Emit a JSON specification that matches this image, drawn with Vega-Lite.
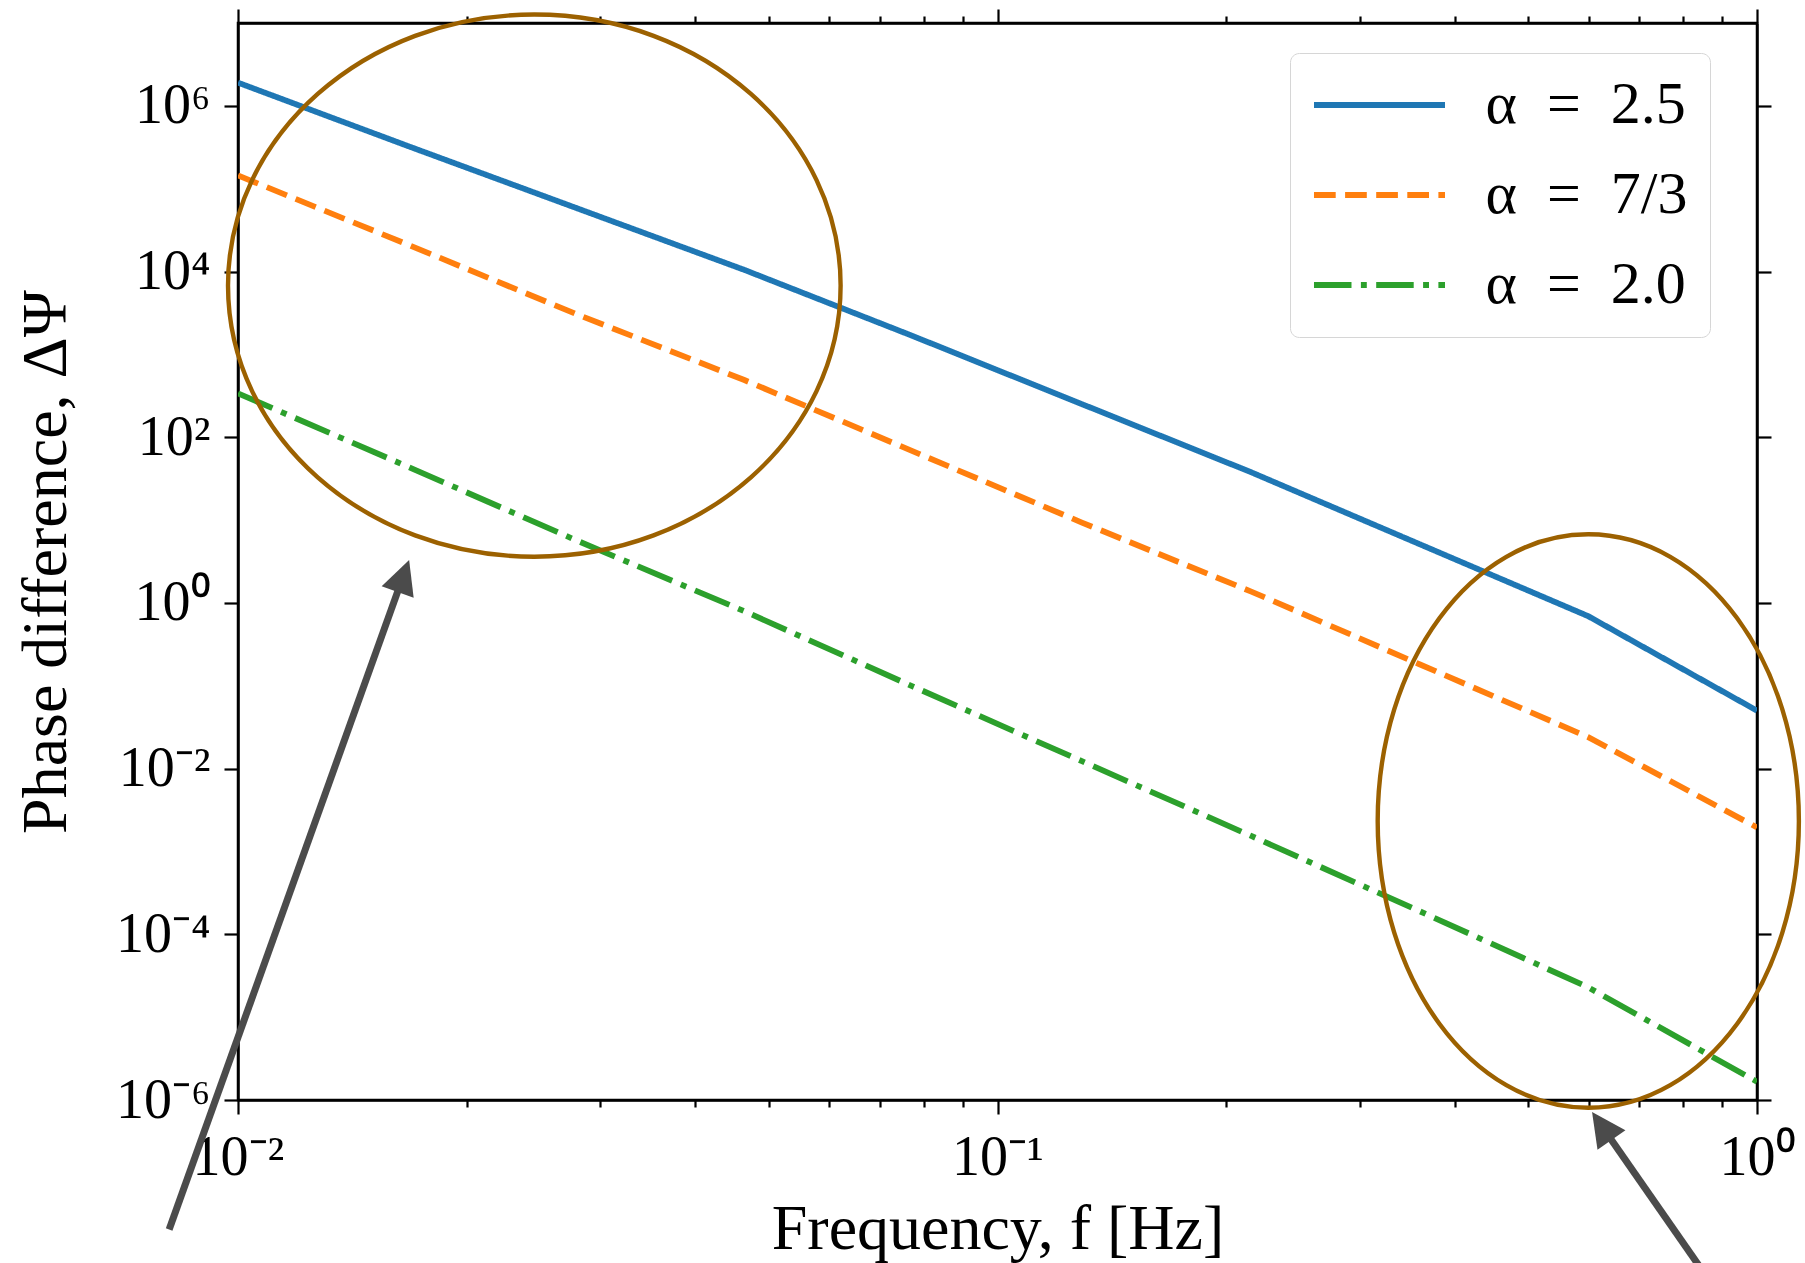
{
  "$schema": "https://vega.github.io/schema/vega-lite/v6.json",
  "autosize": {"type": "none"},
  "width": 1519,
  "height": 1077,
  "padding": {"left": 238, "top": 23, "right": 48, "bottom": 163},
  "background": "white",
  "datasets": {
    "curves": [
      {"f": 0.01, "v": 1905000, "s": "α\u2002=\u20022.5"},
      {"f": 0.016681, "v": 331000, "s": "α\u2002=\u20022.5"},
      {"f": 0.027826, "v": 58900, "s": "α\u2002=\u20022.5"},
      {"f": 0.046416, "v": 10470, "s": "α\u2002=\u20022.5"},
      {"f": 0.077426, "v": 1660, "s": "α\u2002=\u20022.5"},
      {"f": 0.129155, "v": 251, "s": "α\u2002=\u20022.5"},
      {"f": 0.215443, "v": 38.0, "s": "α\u2002=\u20022.5"},
      {"f": 0.359381, "v": 5.13, "s": "α\u2002=\u20022.5"},
      {"f": 0.599484, "v": 0.692, "s": "α\u2002=\u20022.5"},
      {"f": 1.0, "v": 0.0501, "s": "α\u2002=\u20022.5"},
      {"f": 0.01, "v": 144500, "s": "α\u2002=\u20027/3"},
      {"f": 0.016681, "v": 21400, "s": "α\u2002=\u20027/3"},
      {"f": 0.027826, "v": 3090, "s": "α\u2002=\u20027/3"},
      {"f": 0.046416, "v": 490, "s": "α\u2002=\u20027/3"},
      {"f": 0.077426, "v": 67.6, "s": "α\u2002=\u20027/3"},
      {"f": 0.129155, "v": 9.33, "s": "α\u2002=\u20027/3"},
      {"f": 0.215443, "v": 1.38, "s": "α\u2002=\u20027/3"},
      {"f": 0.359381, "v": 0.182, "s": "α\u2002=\u20027/3"},
      {"f": 0.599484, "v": 0.0240, "s": "α\u2002=\u20027/3"},
      {"f": 1.0, "v": 0.00195, "s": "α\u2002=\u20027/3"},
      {"f": 0.01, "v": 339, "s": "α\u2002=\u20022.0"},
      {"f": 0.016681, "v": 44.7, "s": "α\u2002=\u20022.0"},
      {"f": 0.027826, "v": 5.75, "s": "α\u2002=\u20022.0"},
      {"f": 0.046416, "v": 0.794, "s": "α\u2002=\u20022.0"},
      {"f": 0.077426, "v": 0.0977, "s": "α\u2002=\u20022.0"},
      {"f": 0.129155, "v": 0.0123, "s": "α\u2002=\u20022.0"},
      {"f": 0.215443, "v": 0.00155, "s": "α\u2002=\u20022.0"},
      {"f": 0.359381, "v": 0.0001905, "s": "α\u2002=\u20022.0"},
      {"f": 0.599484, "v": 0.0000229, "s": "α\u2002=\u20022.0"},
      {"f": 1.0, "v": 0.00000166, "s": "α\u2002=\u20022.0"}
    ],
    "ellipseLeft": [{"f": 0.024555, "v": 6761}],
    "ellipseRight": [{"f": 0.5996, "v": 0.002333}],
    "arrows": [
      {"f": 0.008116, "v": 2.735e-8, "f2": 0.016452, "v2": 1.954},
      {"f": 0.8672, "v": 6.44e-9, "f2": 0.6279, "v2": 4.54e-7}
    ],
    "headLeft": [{"f": 0.0168, "v": 3.30}],
    "headRight": [{"f": 0.6065, "v": 7.16e-7}]
  },
  "config": {
    "view": {"stroke": "black", "strokeWidth": 2.5},
    "axis": {
      "domainColor": "black",
      "domainWidth": 2.5,
      "tickColor": "black",
      "tickWidth": 2.2,
      "labelFont": "Liberation Serif",
      "titleFont": "Liberation Serif",
      "labelColor": "black",
      "titleColor": "black",
      "titleFontWeight": "normal",
      "grid": false,
      "labelFlush": false,
      "labelOverlap": false
    },
    "legend": {
      "orient": "none",
      "legendX": 1052,
      "legendY": 30,
      "title": null,
      "labelFont": "Liberation Serif",
      "labelFontSize": 60,
      "labelColor": "black",
      "labelLimit": 600,
      "symbolType": "M -3 0 L 3 0",
      "symbolSize": 1907,
      "symbolStrokeWidth": 5.8,
      "symbolOffset": 37.5,
      "padding": 22,
      "rowPadding": 30,
      "labelOffset": 76,
      "strokeColor": "#d6d6d6",
      "fillColor": "white",
      "cornerRadius": 9
    }
  },
  "resolve": {"axis": {"x": "independent", "y": "independent"}},
  "layer": [
    {
      "data": {"name": "curves"},
      "mark": {"type": "line", "strokeWidth": 5.8, "strokeCap": "butt", "clip": true},
      "encoding": {
        "x": {
          "field": "f", "type": "quantitative",
          "scale": {"type": "log", "domain": [0.01, 1], "nice": false},
          "axis": {
            "orient": "bottom",
            "title": "Frequency, f [Hz]",
            "titleFontSize": 64,
            "titleX": 759.5,
            "titleY": 148,
            "titleBaseline": "alphabetic",
            "titleAnchor": "middle",
            "values": [0.01, 0.02, 0.03, 0.04, 0.05, 0.06, 0.07, 0.08, 0.09, 0.1, 0.2, 0.3, 0.4, 0.5, 0.6, 0.7, 0.8, 0.9, 1],
            "tickSize": {"condition": {"test": "abs(log(datum.value)/LN10 - round(log(datum.value)/LN10)) < 0.001", "value": 14}, "value": 7},
            "labelFontSize": 56,
            "labelPadding": 16,
            "labelExpr": "abs(log(datum.value)/LN10 - round(log(datum.value)/LN10)) < 0.001 ? '10' + (datum.value < 0.99 ? '⁻' : '') + ['⁰','¹','²','³','⁴','⁵','⁶','⁷','⁸','⁹'][abs(round(log(datum.value)/LN10))] : ''"
          }
        },
        "y": {
          "field": "v", "type": "quantitative",
          "scale": {"type": "log", "domain": [0.000001, 10000000], "nice": false},
          "axis": {
            "orient": "left",
            "title": "Phase difference, ΔΨ",
            "titleFontSize": 64,
            "titleX": -192,
            "titleY": 538.5,
            "titleAngle": -90,
            "titleBaseline": "middle",
            "titleAnchor": "middle",
            "values": [0.000001, 0.0001, 0.01, 1, 100, 10000, 1000000],
            "tickSize": 14,
            "labelFontSize": 56,
            "labelPadding": 14,
            "labelBaseline": "middle",
            "labelExpr": "'10' + (datum.value < 0.99 ? '⁻' : '') + ['⁰','¹','²','³','⁴','⁵','⁶','⁷','⁸','⁹'][abs(round(log(datum.value)/LN10))]"
          }
        },
        "color": {
          "field": "s", "type": "nominal",
          "scale": {"domain": ["α\u2002=\u20022.5", "α\u2002=\u20027/3", "α\u2002=\u20022.0"], "range": ["#1f77b4", "#ff7f0e", "#2ca02c"]}
        },
        "strokeDash": {
          "field": "s", "type": "nominal",
          "scale": {"domain": ["α\u2002=\u20022.5", "α\u2002=\u20027/3", "α\u2002=\u20022.0"], "range": [[1, 0], [21.7, 9.4], [37.5, 9.4, 5.9, 9.4]]}
        }
      }
    },
    {
      "data": {"name": "ellipseLeft"},
      "mark": {"type": "point", "shape": "M -306.3 0 A 306.3 271.1 0 1 0 306.3 0 A 306.3 271.1 0 1 0 -306.3 0 Z", "size": 4, "filled": false, "stroke": "#9c6100", "strokeWidth": 4.4, "opacity": 1, "clip": false},
      "encoding": {
        "x": {
          "field": "f", "type": "quantitative",
          "axis": {
            "orient": "top", "title": null, "labels": false,
            "values": [0.01, 0.02, 0.03, 0.04, 0.05, 0.06, 0.07, 0.08, 0.09, 0.1, 0.2, 0.3, 0.4, 0.5, 0.6, 0.7, 0.8, 0.9, 1],
            "tickSize": {"condition": {"test": "abs(log(datum.value)/LN10 - round(log(datum.value)/LN10)) < 0.001", "value": 14}, "value": 7}
          }
        },
        "y": {
          "field": "v", "type": "quantitative",
          "axis": {
            "orient": "right", "title": null, "labels": false,
            "values": [0.000001, 0.0001, 0.01, 1, 100, 10000, 1000000],
            "tickSize": 14
          }
        }
      }
    },
    {
      "data": {"name": "ellipseRight"},
      "mark": {"type": "point", "shape": "M -210.6 0 A 210.6 286.7 0 1 0 210.6 0 A 210.6 286.7 0 1 0 -210.6 0 Z", "size": 4, "filled": false, "stroke": "#9c6100", "strokeWidth": 4.4, "opacity": 1, "clip": false},
      "encoding": {
        "x": {"field": "f", "type": "quantitative", "axis": null},
        "y": {"field": "v", "type": "quantitative", "axis": null}
      }
    },
    {
      "data": {"name": "arrows"},
      "mark": {"type": "rule", "stroke": "#4b4b4b", "strokeWidth": 7, "strokeCap": "butt", "clip": false},
      "encoding": {
        "x": {"field": "f", "type": "quantitative", "axis": null},
        "y": {"field": "v", "type": "quantitative", "axis": null},
        "x2": {"field": "f2"},
        "y2": {"field": "v2"}
      }
    },
    {
      "data": {"name": "headLeft"},
      "mark": {"type": "point", "shape": "M 0 0 L 17 34 L -17 34 Z", "size": 4, "filled": true, "fill": "#4b4b4b", "strokeWidth": 0, "opacity": 1, "angle": 19.7, "clip": false},
      "encoding": {
        "x": {"field": "f", "type": "quantitative", "axis": null},
        "y": {"field": "v", "type": "quantitative", "axis": null}
      }
    },
    {
      "data": {"name": "headRight"},
      "mark": {"type": "point", "shape": "M 0 0 L 17 34 L -17 34 Z", "size": 4, "filled": true, "fill": "#4b4b4b", "strokeWidth": 0, "opacity": 1, "angle": -34.8, "clip": false},
      "encoding": {
        "x": {"field": "f", "type": "quantitative", "axis": null},
        "y": {"field": "v", "type": "quantitative", "axis": null}
      }
    }
  ]
}
